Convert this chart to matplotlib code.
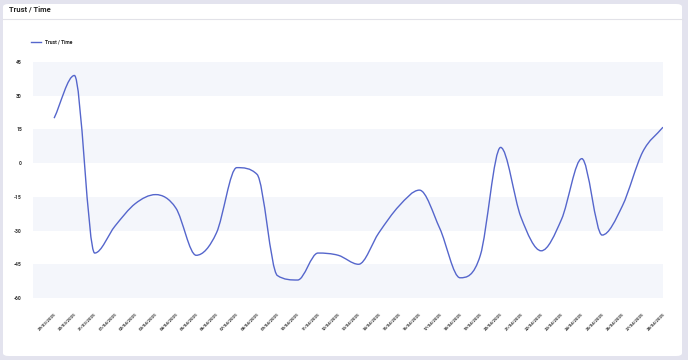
import numpy as np
import matplotlib
matplotlib.use("Agg")
import matplotlib.pyplot as plt
from matplotlib.path import Path
from matplotlib.patches import PathPatch, FancyBboxPatch
from matplotlib.lines import Line2D

dates = ["29/03/2025", "30/03/2025", "31/03/2025"] + [f"{d:02d}/04/2025" for d in range(1, 29)]
values = [20, 39, -40, -28, -18, -14, -20, -41, -31, -2, -5, -50, -52, -40, -41, -45,
          -31, -19, -12, -29, -51, -41, 7, -24, -39, -25, 2, -32, -19, 5, 16]
yticks = [45, 30, 15, 0, -15, -30, -45, -60]
title = "Trust / Time"
series_name = "Trust / Time"
line_color = "#5566cc"

plt.rcParams['font.family'] = ['Roboto', 'DejaVu Sans']

fig = plt.figure(figsize=(6.88, 3.6), dpi=100)
fig.patch.set_facecolor("#e3e3ee")
card = FancyBboxPatch((3 / 688, 4 / 360), 679 / 688, 352 / 360,
                      boxstyle="round,pad=0,rounding_size=0.008",
                      transform=fig.transFigure, facecolor="white", edgecolor="none",
                      zorder=-10)
fig.patches.append(card)
fig.add_artist(Line2D([3 / 688, 682 / 688], [1 - 18.5 / 360, 1 - 18.5 / 360],
                      transform=fig.transFigure, color="#e2e2e8", lw=0.8))
fig.text(9 / 688, 1 - 10 / 360, title, fontsize=5.4, fontweight="bold", color="#222222",
         va="center", ha="left")

ax = fig.add_axes([33 / 688, 1 - 298 / 360, 630 / 688, 236 / 360])
ax.set_facecolor("none")
n = len(values)
x = np.arange(n, dtype=float)
y = np.array(values, dtype=float)

# monotone cubic (Fritsch-Carlson) drawn as Bezier path
dx = np.diff(x)
dy = np.diff(y)
sl = dy / dx
m = np.zeros(n)
m[0] = sl[0]
m[-1] = sl[-1]
for i in range(1, n - 1):
    if sl[i - 1] * sl[i] <= 0:
        m[i] = 0
    else:
        m[i] = (sl[i - 1] + sl[i]) / 2
for i in range(n - 1):
    if sl[i] == 0:
        m[i] = m[i + 1] = 0
        continue
    a = m[i] / sl[i]
    b = m[i + 1] / sl[i]
    s = a * a + b * b
    if s > 9:
        t = 3 / np.sqrt(s)
        m[i] = t * a * sl[i]
        m[i + 1] = t * b * sl[i]
verts = [(x[0], y[0])]
codes = [Path.MOVETO]
for i in range(n - 1):
    h = dx[i] / 3
    verts += [(x[i] + h, y[i] + m[i] * h), (x[i + 1] - h, y[i + 1] - m[i + 1] * h), (x[i + 1], y[i + 1])]
    codes += [Path.CURVE4] * 3
ax.add_patch(PathPatch(Path(verts, codes), facecolor="none", edgecolor=line_color, lw=1.0, zorder=3))

ax.set_xlim(-1.04, n - 1)
ax.set_ylim(-60, 45)
for i, (lo, hi) in enumerate(zip(yticks[1:], yticks[:-1])):
    if i % 2 == 0:
        ax.axhspan(lo, hi, color="#f4f6fb", lw=0, zorder=0)

ax.set_yticks(yticks)
ax.set_yticklabels([str(v) for v in yticks], fontsize=3.6, color="#333333", fontweight="bold")
ax.set_xticks(x)
ax.set_xticklabels(dates, fontsize=3.2, rotation=45, ha="right", rotation_mode="anchor",
                   color="#333333", fontweight="bold")
ax.tick_params(axis="y", length=0, pad=8)
ax.tick_params(axis="x", length=0, pad=10)
for s in ax.spines.values():
    s.set_visible(False)

# legend
fig.add_artist(Line2D([31 / 688, 41 / 688], [1 - 42 / 360, 1 - 42 / 360],
                      transform=fig.transFigure, color=line_color, lw=1.0))
fig.text(45 / 688, 1 - 42 / 360, series_name, fontsize=3.6, fontweight="bold",
         color="#222222", va="center", ha="left")

fig.savefig("out.png", dpi=100, facecolor=fig.get_facecolor())
